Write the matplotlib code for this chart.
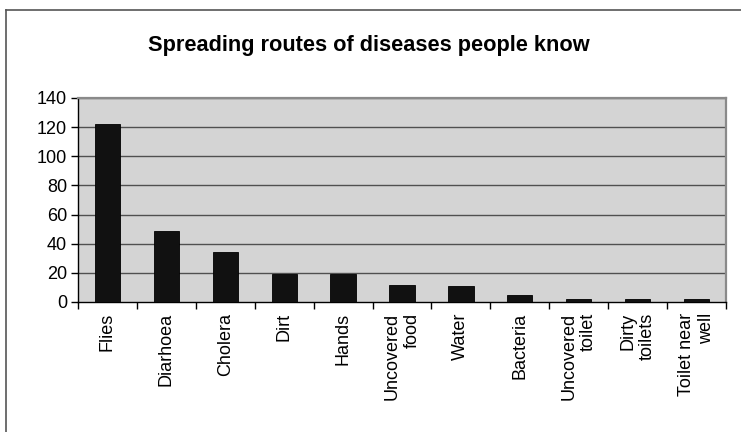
import matplotlib
matplotlib.use("Agg")
import matplotlib.pyplot as plt
from matplotlib.lines import Line2D

categories = ["Flies", "Diarhoea", "Cholera", "Dirt", "Hands", "Uncovered\nfood",
              "Water", "Bacteria", "Uncovered\ntoilet", "Dirty\ntoilets", "Toilet near\nwell"]
counts = [122, 49, 34, 19, 19, 12, 11, 5, 2, 2, 2]
y_ticks = [0, 20, 40, 60, 80, 100, 120, 140]

plt.rcParams["font.family"] = ["Liberation Sans", "DejaVu Sans"]

W, H = 741, 432
fig = plt.figure(figsize=(W / 100, H / 100), dpi=100)
fig.patch.set_facecolor("white")

# outer chart frame (left and top edges visible)
fy = 1 - 9.5 / H
fx = 5.5 / W
fig.add_artist(Line2D([fx, fx], [0, fy], transform=fig.transFigure,
                      color="#555555", lw=1.2))
fig.add_artist(Line2D([fx, 1], [fy, fy], transform=fig.transFigure,
                      color="#555555", lw=1.2))

left, right, top, bottom = 78, 726, 98, 302
ax = fig.add_axes([left / W, 1 - bottom / H, (right - left) / W, (bottom - top) / H])
ax.set_facecolor("#d4d4d4")

x = list(range(len(categories)))
ax.bar(x, counts, width=0.43, color="#111111", edgecolor="black", linewidth=0.6, zorder=3)

ax.set_xlim(-0.5, len(categories) - 0.5)
ax.set_ylim(0, 140)
ax.set_yticks(y_ticks)
ax.set_yticklabels([str(v) for v in y_ticks], fontsize=13)
for v in y_ticks[1:]:
    ax.axhline(v, color="#505050", lw=1.0, zorder=1)

ax.set_xticks(x)
ax.set_xticklabels(categories, rotation=90, fontsize=13, va="top", ha="center",
                   multialignment="right")
ax.tick_params(axis="x", length=0, pad=8)
# category boundary ticks
ax.set_xticks([i - 0.5 for i in range(len(categories) + 1)], minor=True)
ax.tick_params(axis="x", which="minor", length=5, width=1, color="black", direction="out")
ax.tick_params(axis="y", length=5, width=1, color="black", direction="out", pad=3)

for s in ("top", "right"):
    ax.spines[s].set_color("#8a8a8a")
    ax.spines[s].set_linewidth(1.6)
for s in ("left", "bottom"):
    ax.spines[s].set_color("black")
    ax.spines[s].set_linewidth(1.0)

fig.text(0.5 * (148 + 590) / W, 1 - 45 / H, "Spreading routes of diseases people know",
         ha="center", va="center", fontsize=15.7, fontweight="bold")

fig.savefig("out.png", dpi=100)
